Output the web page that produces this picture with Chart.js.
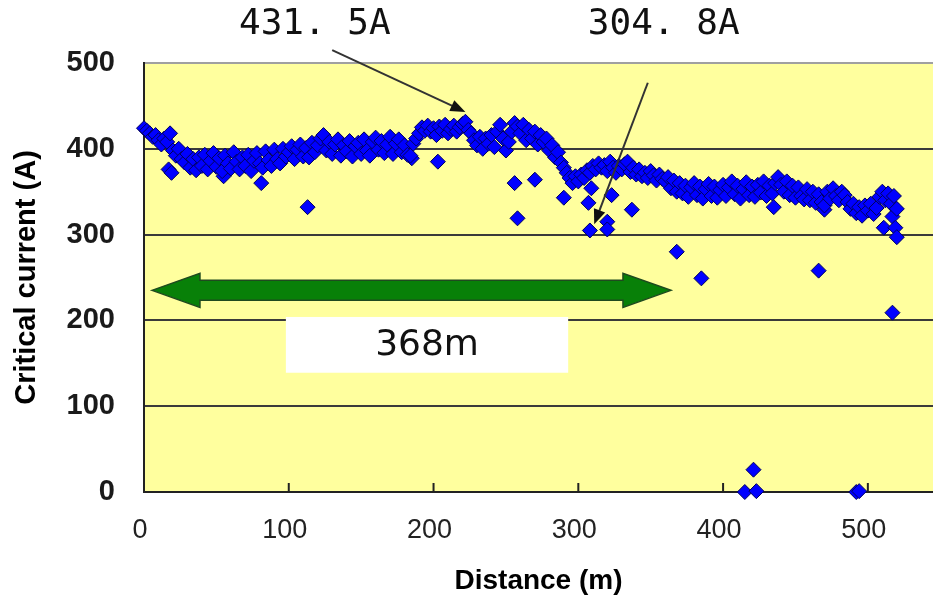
<!DOCTYPE html>
<html>
<head>
<meta charset="utf-8">
<title>Critical current along the tape</title>
<script src="https://cdn.jsdelivr.net/npm/chart.js@4.4.1/dist/chart.umd.min.js"></script>
<style>
  html, body { margin: 0; padding: 0; background: #ffffff; }
  #wrap { width: 933px; height: 600px; }
</style>
</head>
<body>
<div id="wrap"><canvas id="ic-chart"></canvas></div>
<script>
// ── Data ───────────────────────────────────────────────────────────────
// main measured trace (m, A)
const traceDistance = [
  0, 2, 4, 6, 8, 10, 12, 14, 16, 18, 20, 22, 24, 26, 28, 30, 32, 34, 36, 38,
  40, 42, 44, 46, 48, 50, 52, 54, 56, 58, 60, 62, 64, 66, 68, 70, 72, 74, 76, 78,
  80, 82, 84, 86, 88, 90, 92, 94, 96, 98, 100, 102, 104, 106, 108, 110, 112, 114, 116, 118,
  120, 122, 124, 126, 128, 130, 132, 134, 136, 138, 140, 142, 144, 146, 148, 150, 152, 154, 156, 158,
  160, 162, 164, 166, 168, 170, 172, 174, 176, 178, 180, 182, 184, 186, 188, 190, 192, 194, 196, 198,
  200, 202, 204, 206, 208, 210, 212, 214, 216, 218, 220, 222, 224, 226, 228, 230, 232, 234, 236, 238,
  240, 242, 244, 246, 248, 250, 252, 254, 256, 258, 260, 262, 264, 266, 268, 270, 272, 274, 276, 278,
  280, 282, 284, 286, 288, 290, 292, 294, 296, 298, 300, 302, 304, 306, 308, 310, 312, 314, 316, 318,
  320, 322, 324, 326, 328, 330, 332, 334, 336, 338, 340, 342, 344, 346, 348, 350, 352, 354, 356, 358,
  360, 362, 364, 366, 368, 370, 372, 374, 376, 378, 380, 382, 384, 386, 388, 390, 392, 394, 396, 398,
  400, 402, 404, 406, 408, 410, 412, 414, 416, 418, 420, 422, 424, 426, 428, 430, 432, 434, 436, 438,
  440, 442, 444, 446, 448, 450, 452, 454, 456, 458, 460, 462, 464, 466, 468, 470, 472, 474, 476, 478,
  480, 482, 484, 486, 488, 490, 492, 494, 496, 498, 500, 502, 504, 506, 508, 510, 512, 514, 516, 518,
  520
];
const traceCurrent = [
  424, 421, 418, 414, 416, 410, 405, 412, 408, 418, 398, 392, 400, 388, 384, 394, 378, 388, 375, 390,
  380, 393, 376, 386, 395, 379, 389, 374, 392, 383, 377, 396, 385, 376, 390, 380, 393, 374, 386, 395,
  383, 378, 397, 387, 380, 399, 388, 383, 400, 391, 396, 403, 388, 399, 405, 391, 401, 390, 407, 396,
  404, 412, 416, 398, 408, 394, 405, 411, 392, 404, 397, 409, 391, 403, 407, 394, 411, 398, 392, 408,
  413, 399, 409, 395, 405, 414, 394, 406, 411, 396, 404, 393, 392, 406, 412, 418, 425, 421, 427, 420,
  424, 416, 426, 421, 428, 418, 423, 427, 420, 425, 429, 431.5, 422, 418, 410, 404, 414, 400, 412, 406,
  416, 402, 420, 428, 412, 398, 408, 420, 430, 426, 418, 428, 410, 422, 412, 420, 405, 416, 408, 412,
  398, 404, 390, 396, 384, 378, 372, 366, 360, 368, 362, 370, 366, 375, 372, 380, 376, 383, 378, 381,
  374, 385, 378, 372, 380, 376, 382, 385, 373, 378, 370, 376, 368, 372, 366, 374, 369, 363, 370, 365,
  362, 367, 354, 363, 350, 360, 348, 357, 344, 355, 360, 346, 356, 342, 353, 359, 345, 356, 343, 352,
  358, 345, 355, 362, 347, 357, 342, 353, 361, 346, 356, 344, 358, 349, 362, 345, 357, 348, 360, 367,
  358, 350, 362, 346, 357, 343, 355, 345, 341, 353, 340, 350, 337, 347, 338, 334, 350, 342, 354, 345,
  340, 350, 346, 338, 330, 336, 325, 332, 322, 334, 328, 336, 324, 331, 344, 350, 340, 348, 336, 345,
  330
];

// scattered low readings (m, A)
const outlierDistance = [17, 19, 55, 81, 113, 185, 203, 256, 258, 270, 290, 307, 308, 309, 320, 320, 323,
  337, 368, 385, 415, 421, 423, 435, 466, 470, 492, 494, 511, 517, 517, 519, 520];
const outlierCurrent = [376, 372, 368, 360, 332, 389, 385, 360, 319, 364, 343, 337, 304.8, 354, 315, 306, 346,
  329, 280, 249, 0, 26, 1, 332, 258, 329, 0, 1, 308, 321, 209, 308, 297];

// axis
const xTicks = [0, 100, 200, 300, 400, 500];
const yTicks = [0, 100, 200, 300, 400, 500];

// annotations
const calloutLabels = ['431. 5A', '304. 8A'];
const spanLabel = '368m';

// ── Helpers ────────────────────────────────────────────────────────────
function toPoints(xs, ys) {
  return xs.map((x, i) => ({ x: x, y: ys[i] }));
}

function drawCallout(ctx, x1, y1, x2, y2) {
  const ang = Math.atan2(y2 - y1, x2 - x1);
  const len = 15, half = 6;
  ctx.save();
  ctx.strokeStyle = '#333';
  ctx.lineWidth = 2;
  ctx.beginPath();
  ctx.moveTo(x1, y1);
  ctx.lineTo(x2 - Math.cos(ang) * len * 0.8, y2 - Math.sin(ang) * len * 0.8);
  ctx.stroke();
  ctx.fillStyle = '#111';
  ctx.beginPath();
  ctx.moveTo(x2, y2);
  ctx.lineTo(x2 - Math.cos(ang) * len - Math.sin(ang) * half, y2 - Math.sin(ang) * len + Math.cos(ang) * half);
  ctx.lineTo(x2 - Math.cos(ang) * len + Math.sin(ang) * half, y2 - Math.sin(ang) * len - Math.cos(ang) * half);
  ctx.closePath();
  ctx.fill();
  ctx.restore();
}

function drawDoubleArrow(ctx, x1, x2, y) {
  const shaft = 10, head = 17, headLen = 48;
  ctx.save();
  ctx.beginPath();
  ctx.moveTo(x1, y);
  ctx.lineTo(x1 + headLen, y - head);
  ctx.lineTo(x1 + headLen, y - shaft);
  ctx.lineTo(x2 - headLen, y - shaft);
  ctx.lineTo(x2 - headLen, y - head);
  ctx.lineTo(x2, y);
  ctx.lineTo(x2 - headLen, y + head);
  ctx.lineTo(x2 - headLen, y + shaft);
  ctx.lineTo(x1 + headLen, y + shaft);
  ctx.lineTo(x1 + headLen, y + head);
  ctx.closePath();
  ctx.fillStyle = '#088008';
  ctx.fill();
  ctx.strokeStyle = '#1f4a1f';
  ctx.lineWidth = 1.5;
  ctx.stroke();
  ctx.restore();
}

// ── Plugin: plot background, inward ticks, arrows and labels ──────────
const notesPlugin = {
  id: 'notes',
  beforeDraw(chart) {
    const { ctx, chartArea: a } = chart;
    ctx.save();
    ctx.fillStyle = '#ffff9e';
    ctx.fillRect(a.left, a.top, a.right - a.left, a.bottom - a.top);
    ctx.restore();
  },
  afterDatasetsDraw(chart) {
    const { ctx, chartArea: a } = chart;
    const xs = chart.scales.x, ys = chart.scales.y;
    const px = v => xs.getPixelForValue(v);
    const py = v => ys.getPixelForValue(v);

    // tick marks pointing into the plot
    ctx.save();
    ctx.strokeStyle = '#222';
    ctx.lineWidth = 2;
    xTicks.slice(1).forEach(t => {
      ctx.beginPath();
      ctx.moveTo(px(t), a.bottom);
      ctx.lineTo(px(t), a.bottom - 9);
      ctx.stroke();
    });
    ctx.restore();

    // span arrow + its label box
    drawDoubleArrow(ctx, px(5.5), px(364), py(235));
    ctx.save();
    ctx.fillStyle = '#ffffff';
    const bx1 = px(98), bx2 = px(293), by1 = py(204), by2 = py(139);
    ctx.fillRect(bx1, by1, bx2 - bx1, by2 - by1);
    ctx.fillStyle = '#111';
    ctx.font = '36px "DejaVu Sans", sans-serif';
    ctx.textAlign = 'center';
    ctx.textBaseline = 'middle';
    ctx.fillText(spanLabel, (bx1 + bx2) / 2, (by1 + by2) / 2 + 1);
    ctx.restore();

    // callouts
    drawCallout(ctx, px(130), py(515), px(222), py(443));
    drawCallout(ctx, px(348), py(477), px(311), py(312));
  },
  afterDraw(chart) {
    const { ctx } = chart;
    const xs = chart.scales.x, ys = chart.scales.y;
    ctx.save();
    ctx.fillStyle = '#111';
    ctx.font = '36px "DejaVu Sans Mono", monospace';
    ctx.textAlign = 'center';
    ctx.textBaseline = 'middle';
    ctx.fillText(calloutLabels[0], xs.getPixelForValue(118), ys.getPixelForValue(545));
    ctx.fillText(calloutLabels[1], xs.getPixelForValue(359), ys.getPixelForValue(545));
    ctx.restore();
  }
};

// ── Chart ──────────────────────────────────────────────────────────────
const markerStyle = {
  pointStyle: 'rectRot',
  pointRadius: 7.5,
  pointBackgroundColor: '#0000ff',
  pointBorderColor: '#00005e',
  pointBorderWidth: 1,
  showLine: false,
  clip: false,
};

const tickFont = '"Liberation Sans", Arial, sans-serif';

new Chart(document.getElementById('ic-chart'), {
  type: 'scatter',
  data: {
    datasets: [
      Object.assign({ label: 'Ic', data: toPoints(traceDistance, traceCurrent) }, markerStyle),
      Object.assign({ label: 'Ic (defects)', data: toPoints(outlierDistance, outlierCurrent) }, markerStyle),
    ]
  },
  options: {
    responsive: true,
    maintainAspectRatio: false,
    animation: false,
    layout: { autoPadding: false, padding: { top: 63, right: 0, left: 0, bottom: 0 } },
    plugins: {
      legend: { display: false },
      tooltip: { enabled: false },
    },
    scales: {
      x: {
        type: 'linear',
        min: 0,
        max: 545,
        afterFit: s => { s.height = 108; },
        afterBuildTicks: s => { s.ticks = xTicks.map(v => ({ value: v })); },
        grid: { display: false, drawTicks: false },
        border: { display: true, color: '#222', width: 2 },
        ticks: {
          padding: 22,
          labelOffset: -4,
          color: '#222',
          font: { family: tickFont, size: 27 },
        },
        title: {
          display: true,
          text: 'Distance (m)',
          color: '#000',
          font: { family: 'Liberation Sans, Arial, sans-serif', size: 28, weight: 'bold' },
          padding: { top: 0, bottom: 2 },
        },
      },
      y: {
        type: 'linear',
        min: 0,
        max: 500,
        afterFit: s => { s.width = 144; },
        afterBuildTicks: s => { s.ticks = yTicks.map(v => ({ value: v })); },
        grid: {
          drawTicks: false,
          lineWidth: 2,
          color: c => (c.tick && c.tick.value === 500 ? '#a0a0a0' : '#3a3a3a'),
        },
        border: { display: true, color: '#222', width: 2 },
        ticks: {
          padding: 29,
          color: '#1a1a1a',
          font: { family: tickFont, size: 29, weight: 'bold' },
        },
        title: {
          display: true,
          text: 'Critical current (A)',
          color: '#000',
          font: { family: 'Liberation Sans, Arial, sans-serif', size: 29, weight: 'bold' },
          padding: { top: 10, bottom: 0 },
        },
      },
    },
  },
  plugins: [notesPlugin],
});
</script>
</body>
</html>
